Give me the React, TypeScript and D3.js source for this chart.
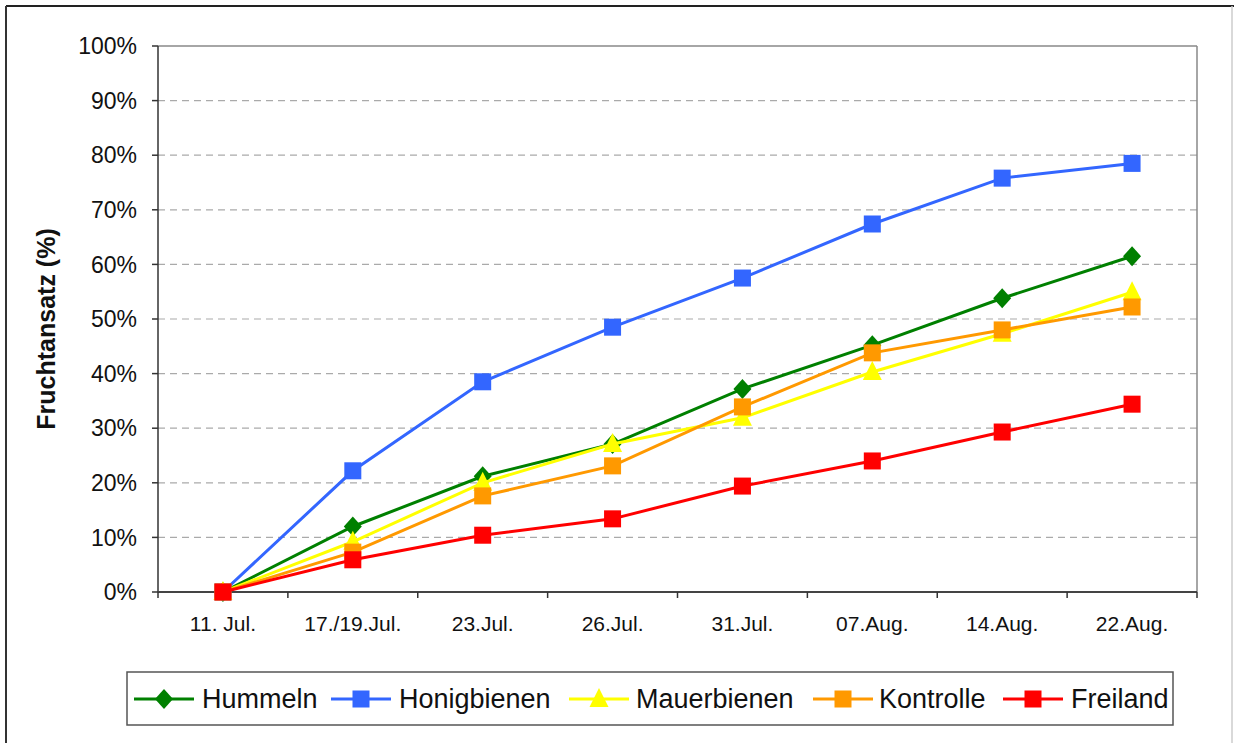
import React from "react";
import * as d3 from "d3";

const categories = ["11. Jul.", "17./19.Jul.", "23.Jul.", "26.Jul.", "31.Jul.", "07.Aug.", "14.Aug.", "22.Aug."];
const hummeln = [0, 12.0, 21.2, 27.1, 37.2, 45.2, 53.8, 61.5];
const honigbienen = [0, 22.2, 38.5, 48.5, 57.5, 67.4, 75.8, 78.5];
const mauerbienen = [0, 9.2, 20.0, 27.1, 31.9, 40.3, 47.3, 54.9];
const kontrolle = [0, 7.3, 17.6, 23.1, 33.9, 43.8, 48.0, 52.2];
const freiland = [0, 5.9, 10.4, 13.4, 19.4, 24.0, 29.3, 34.4];
const yTicks = [0, 10, 20, 30, 40, 50, 60, 70, 80, 90, 100];

const seriesNames = ["Hummeln", "Honigbienen", "Mauerbienen", "Kontrolle", "Freiland"];
const seriesValues = [hummeln, honigbienen, mauerbienen, kontrolle, freiland];
const seriesColors = ["#008000", "#3366FF", "#FFFF00", "#FF9900", "#FF0000"];
const seriesMarkers = ["diamond", "square", "triangle", "square", "square"];

const W = 1234, H = 743;
const L = 158, R = 1197, T = 46, B = 592;
const FONT = "'Liberation Sans', Arial, sans-serif";

function Marker({ type, x, y, color }: { type: string; x: number; y: number; color: string }) {
  if (type === "square") return <rect x={x - 8.5} y={y - 8.5} width={17} height={17} fill={color} />;
  if (type === "diamond") return <path d={`M${x},${y - 10}L${x + 9},${y}L${x},${y + 10}L${x - 9},${y}Z`} fill={color} />;
  return <path d={`M${x},${y - 11}L${x + 9.5},${y + 8}L${x - 9.5},${y + 8}Z`} fill={color} />;
}

export default function App() {
  const x = d3.scaleBand<string>().domain(categories).range([L, R]).padding(0);
  const y = d3.scaleLinear().domain([0, 100]).range([B, T]);
  const cx = (c: string) => (x(c) as number) + x.bandwidth() / 2;
  const line = d3.line<number>().x((_, i) => cx(categories[i])).y((v) => y(v));
  const bounds = categories.map((c) => x(c) as number).concat([R]);

  const legendLayout = [
    { lx: 134, tx: 202 },
    { lx: 331, tx: 399 },
    { lx: 569, tx: 636 },
    { lx: 813, tx: 879 },
    { lx: 1003, tx: 1071 },
  ];
  const ly = 699;

  return (
    <svg width={W} height={H} style={{ position: "absolute", left: 0, top: 0, background: "#fff" }} fontFamily={FONT}>
      <rect x={0} y={0} width={W} height={H} fill="#fff" />
      {/* outer frame */}
      <line x1={6} y1={6} x2={1234} y2={6} stroke="#222" strokeWidth={2} />
      <line x1={6} y1={6} x2={6} y2={H} stroke="#333" strokeWidth={2} />
      <line x1={1232} y1={6} x2={1232} y2={H} stroke="#ccc" strokeWidth={1.5} />

      {/* gridlines */}
      {yTicks.filter((t) => t > 0 && t < 100).map((t) => (
        <line key={t} x1={L} x2={R} y1={y(t)} y2={y(t)} stroke="#aaa" strokeWidth={1.2} strokeDasharray="7,5" />
      ))}
      {/* plot border */}
      <line x1={L} x2={R} y1={T} y2={T} stroke="#888" strokeWidth={1.5} />
      <line x1={R} x2={R} y1={T} y2={B} stroke="#888" strokeWidth={1.5} />
      {/* axes */}
      <line x1={L} x2={L} y1={T} y2={B} stroke="#333" strokeWidth={1.5} />
      <line x1={L} x2={R} y1={B} y2={B} stroke="#444" strokeWidth={2} />
      {yTicks.map((t) => (
        <g key={t}>
          <line x1={152} x2={L} y1={y(t)} y2={y(t)} stroke="#333" strokeWidth={1.5} />
          <text x={137} y={y(t)} dy="0.36em" textAnchor="end" fontSize={23} fill="#111">{t}%</text>
        </g>
      ))}
      {bounds.map((b, i) => (
        <line key={i} x1={b} x2={b} y1={B} y2={B + 6} stroke="#333" strokeWidth={1.5} />
      ))}
      {categories.map((c) => (
        <text key={c} x={cx(c)} y={631} textAnchor="middle" fontSize={21} fill="#111">{c}</text>
      ))}
      <text transform={`translate(55,${(T + B) / 2 + 10}) rotate(-90)`} textAnchor="middle" fontSize={25} fontWeight="bold" fill="#111">
        Fruchtansatz (%)
      </text>

      {/* series */}
      {seriesValues.map((vals, si) => (
        <g key={si}>
          <path d={line(vals) as string} fill="none" stroke={seriesColors[si]} strokeWidth={3} />
          {vals.map((v, i) => (
            <Marker key={i} type={seriesMarkers[si]} x={cx(categories[i])} y={y(v)} color={seriesColors[si]} />
          ))}
        </g>
      ))}

      {/* legend */}
      <rect x={127} y={672} width={1046} height={53} fill="#fff" stroke="#555" strokeWidth={1.5} />
      {seriesNames.map((n, i) => {
        const { lx, tx } = legendLayout[i];
        return (
          <g key={n}>
            <line x1={lx} x2={lx + 60} y1={ly} y2={ly} stroke={seriesColors[i]} strokeWidth={3} />
            <Marker type={seriesMarkers[i]} x={lx + 30} y={ly} color={seriesColors[i]} />
            <text x={tx} y={ly + 9} fontSize={27} fill="#111">{n}</text>
          </g>
        );
      })}
    </svg>
  );
}
